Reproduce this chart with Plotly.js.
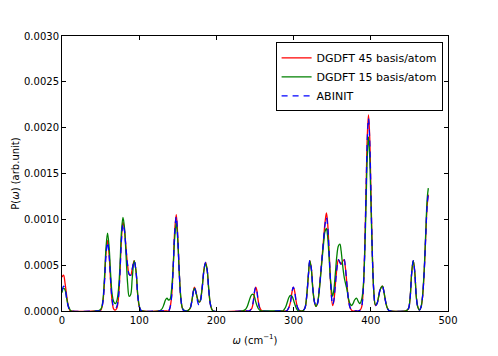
<!DOCTYPE html>
<html>
<head>
<meta charset="utf-8">
<script src="https://cdn.plot.ly/plotly-3.0.1.min.js"></script>
<style>
  html, body { margin: 0; padding: 0; background: #fff; }
  #chart { width: 498px; height: 356px; }
</style>
</head>
<body>
<div id="chart"></div>
<script>
// frequencies (cm^-1)
const omega = [
  0, 2, 4, 6, 8, 10, 12,
  46, 49, 51, 53, 55, 57, 59, 61, 63, 65, 67, 69, 71, 73, 75, 77, 79, 81, 83, 85, 87, 89, 91, 93.5, 96, 98, 100, 102, 104,
  126, 128, 130, 132, 134, 136, 138, 140, 142, 144, 146, 148, 150, 152, 154, 156, 158, 160,
  162, 164, 166, 168, 170, 171.5, 173, 175, 177, 178.5, 180, 182, 184, 186, 188, 190, 192, 194, 196,
  234, 236, 238, 240, 242, 244, 246, 248, 249.5, 251, 252.5, 254, 256, 258, 260,
  284, 286, 288, 290, 292, 294, 296, 298, 299.5, 301, 303, 305, 307, 309, 311,
  313, 315, 317, 319, 321, 323, 325, 327, 329, 331, 333, 335, 337, 339, 340.5, 342.5, 344, 346, 348, 350.5,
  352, 354, 356, 358, 360, 361.5, 363.5, 365.5, 367, 369, 371, 373, 375, 377, 379, 381.5, 384,
  386, 388, 390, 392, 394, 395.5, 397, 398.5, 400, 402, 404, 406, 408, 410, 412, 415, 417, 419, 421, 423, 425,
  445, 447, 449, 451, 453, 455, 457, 459, 461, 463, 465, 467, 469, 471, 473, 474.5
];

// DGDFT 45 basis/atom (red)
const dgdft45 = [
  0.00037, 0.00039, 0.00030, 0.00017, 0.00006, 0.00001, 0,
  0, 0, 0.00002, 0.0001, 0.00032, 0.00063, 0.00077, 0.00062, 0.00032, 0.0001, 0.00002, 0.00001, 0.00003, 0.00013, 0.0004, 0.00078, 0.00097, 0.00088, 0.00068, 0.0005, 0.0004, 0.00039, 0.00046, 0.00055, 0.00042, 0.00018, 0.00005, 0.00001, 0,
  0, 0, 0, 0, 0, 0, 0, 0.00004, 0.00016, 0.00047, 0.00088, 0.00105, 0.0008, 0.0004, 0.00013, 0.00003, 0, 0,
  0, 0.00001, 0.00003, 0.0001, 0.00021, 0.00026, 0.00023, 0.00015, 0.0001, 0.0001, 0.00015, 0.00029, 0.00046, 0.00053, 0.00045, 0.00024, 0.00008, 0.00002, 0,
  0, 0, 0, 0, 0, 0.00001, 0.00003, 0.00011, 0.00021, 0.00026, 0.00022, 0.00012, 0.00004, 0.00001, 0,
  0, 0, 0, 0, 0.00001, 0.00004, 0.0001, 0.00021, 0.00026, 0.00023, 0.00012, 0.00004, 0.00001, 0, 0,
  0.00001, 0.00004, 0.00016, 0.00037, 0.00055, 0.00046, 0.00024, 0.0001, 0.00005, 0.00008, 0.00022, 0.0004, 0.0006, 0.0008, 0.00095, 0.00107, 0.00097, 0.00065, 0.0003, 0.00006,
  0.0001, 0.00028, 0.00046, 0.00056, 0.00053, 0.00051, 0.00054, 0.00056, 0.00048, 0.0003, 0.00013, 0.00004, 0.00001, 0, 0, 0, 0,
  0.00001, 0.00004, 0.0002, 0.00063, 0.00138, 0.00192, 0.00214, 0.00192, 0.00138, 0.00063, 0.0002, 0.00006, 0.00008, 0.00015, 0.00023, 0.00027, 0.00021, 0.00011, 0.00004, 0.00001, 0,
  0, 0.00001, 0.00003, 0.00015, 0.00042, 0.00055, 0.00042, 0.00015, 0.00004, 0.00001, 0.00004, 0.00015, 0.0004, 0.00078, 0.00115, 0.00127
];

// DGDFT 15 basis/atom (green)
const dgdft15 = [
  0.0002, 0.00025, 0.00023, 0.00014, 0.00006, 0.00002, 0,
  0, 0.00001, 0.00003, 0.00012, 0.00036, 0.00069, 0.00085, 0.0007, 0.0004, 0.00018, 0.0001, 0.00008, 0.00011, 0.00022, 0.00048, 0.00086, 0.00102, 0.0009, 0.0006, 0.0003, 0.00016, 0.00018, 0.00036, 0.00055, 0.00043, 0.00019, 0.00006, 0.00001, 0,
  0, 0.00001, 0.00003, 0.00007, 0.00012, 0.00014, 0.00012, 0.00013, 0.00024, 0.00048, 0.0008, 0.00096, 0.00076, 0.0004, 0.00014, 0.00003, 0.00001, 0,
  0, 0.00001, 0.00003, 0.0001, 0.0002, 0.00025, 0.00022, 0.00015, 0.0001, 0.0001, 0.00015, 0.00029, 0.00045, 0.00052, 0.00045, 0.00025, 0.00009, 0.00002, 0,
  0, 0.00001, 0.00002, 0.00005, 0.0001, 0.00015, 0.00018, 0.00018, 0.00015, 0.0001, 0.00006, 0.00003, 0.00001, 0, 0,
  0, 0, 0.00002, 0.00005, 0.0001, 0.00015, 0.00017, 0.00016, 0.00013, 0.00009, 0.00004, 0.00001, 0, 0, 0,
  0.00001, 0.00004, 0.00017, 0.00038, 0.00055, 0.00045, 0.00023, 0.0001, 0.00005, 0.00009, 0.0002, 0.00038, 0.00057, 0.00075, 0.00086, 0.0009, 0.00082, 0.00058, 0.00032, 0.00016,
  0.00022, 0.0004, 0.0006, 0.00071, 0.00073, 0.00066, 0.0005, 0.00037, 0.00031, 0.00024, 0.00014, 0.00008, 0.00006, 0.00008, 0.00012, 0.00014, 0.0001,
  0.00008, 0.00012, 0.00024, 0.00058, 0.00122, 0.0017, 0.0019, 0.0017, 0.00124, 0.0006, 0.0002, 0.00007, 0.00008, 0.00015, 0.00023, 0.00027, 0.00021, 0.00011, 0.00004, 0.00001, 0,
  0, 0.00001, 0.00003, 0.00015, 0.00042, 0.00055, 0.00042, 0.00015, 0.00004, 0.00001, 0.00004, 0.00016, 0.00042, 0.00082, 0.00122, 0.00134
];

// ABINIT (blue dashed)
const abinit = [
  0.00022, 0.00027, 0.00024, 0.00014, 0.00005, 0.00001, 0,
  0, 0, 0.00002, 0.0001, 0.00031, 0.00061, 0.00075, 0.00061, 0.00033, 0.00012, 0.00004, 0.00003, 0.00005, 0.00014, 0.0004, 0.00077, 0.00095, 0.00087, 0.00067, 0.0005, 0.0004, 0.00039, 0.00046, 0.00055, 0.00042, 0.00018, 0.00005, 0.00001, 0,
  0, 0, 0, 0, 0, 0, 0, 0.00004, 0.00016, 0.00047, 0.00086, 0.00103, 0.00079, 0.0004, 0.00013, 0.00003, 0, 0,
  0, 0.00001, 0.00003, 0.0001, 0.00021, 0.00026, 0.00022, 0.00013, 0.00007, 0.00007, 0.00013, 0.00028, 0.00046, 0.00053, 0.00045, 0.00024, 0.00008, 0.00002, 0,
  0, 0, 0, 0, 0, 0.00001, 0.00004, 0.00012, 0.00022, 0.00026, 0.00021, 0.00011, 0.00003, 0.00001, 0,
  0, 0, 0, 0, 0.00001, 0.00004, 0.0001, 0.00021, 0.00026, 0.00023, 0.00012, 0.00004, 0.00001, 0, 0,
  0.00001, 0.00004, 0.00016, 0.00037, 0.00055, 0.00046, 0.00024, 0.0001, 0.00005, 0.00008, 0.00022, 0.0004, 0.0006, 0.0008, 0.00093, 0.00102, 0.00094, 0.00064, 0.0003, 0.00007,
  0.00011, 0.00028, 0.00046, 0.00056, 0.00053, 0.00051, 0.00054, 0.00056, 0.00048, 0.0003, 0.00013, 0.00004, 0.00001, 0, 0, 0, 0,
  0.00001, 0.00004, 0.0002, 0.00062, 0.00136, 0.00188, 0.0021, 0.00188, 0.00136, 0.00062, 0.0002, 0.00006, 0.00008, 0.00015, 0.00023, 0.00027, 0.00021, 0.00011, 0.00004, 0.00001, 0,
  0, 0.00001, 0.00003, 0.00015, 0.00042, 0.00055, 0.00042, 0.00015, 0.00004, 0.00001, 0.00004, 0.00015, 0.0004, 0.00078, 0.00116, 0.00128
];

const names = ['DGDFT 45 basis/atom', 'DGDFT 15 basis/atom', 'ABINIT'];
const yTicks = [0, 0.0005, 0.001, 0.0015, 0.002, 0.0025, 0.003];
const xTicks = [0, 100, 200, 300, 400, 500];

const font = { family: 'DejaVu Sans, Verdana, sans-serif', size: 10, color: '#000' };

const mk = (y, name, color, dash) => ({
  x: omega, y: y, name: name, type: 'scatter', mode: 'lines',
  line: { color: color, width: 1.3, dash: dash, shape: 'spline', smoothing: 1 },
  hoverinfo: 'skip'
});

const data = [
  mk(dgdft45, names[0], '#ff0000', 'solid'),
  mk(dgdft15, names[1], '#008000', 'solid'),
  mk(abinit, names[2], '#0000ff', '6px,5px')
];

const axisCommon = {
  showline: true, linecolor: '#000', linewidth: 1,
  mirror: 'ticks', ticks: 'inside', ticklen: 4, tickwidth: 1, tickcolor: '#000',
  showgrid: false, zeroline: false, tickfont: font
};

const layout = {
  width: 498, height: 356,
  margin: { l: 62, r: 50, t: 36, b: 45 },
  paper_bgcolor: '#fff', plot_bgcolor: '#fff',
  font: font,
  showlegend: true,
  legend: {
    x: 0.986, xanchor: 'right', y: 0.977, yanchor: 'top',
    bgcolor: '#fff', bordercolor: '#000', borderwidth: 1,
    tracegroupgap: 0, itemwidth: 30,
    font: { family: font.family, size: 11, color: '#000' }
  },
  xaxis: Object.assign({}, axisCommon, {
    range: [0, 500], tickvals: xTicks, ticktext: xTicks.map(String),
    title: { text: '<i>ω</i> (cm<sup>−1</sup>)', font: font, standoff: 11 }
  }),
  yaxis: Object.assign({}, axisCommon, {
    range: [0, 0.003], tickvals: yTicks, ticktext: yTicks.map(v => v.toFixed(4)),
    title: { text: 'P(<i>ω</i>) (arb.unit)', font: font, standoff: 2 }
  })
};

Plotly.newPlot('chart', data, layout, { displayModeBar: false, staticPlot: true });
</script>
</body>
</html>
